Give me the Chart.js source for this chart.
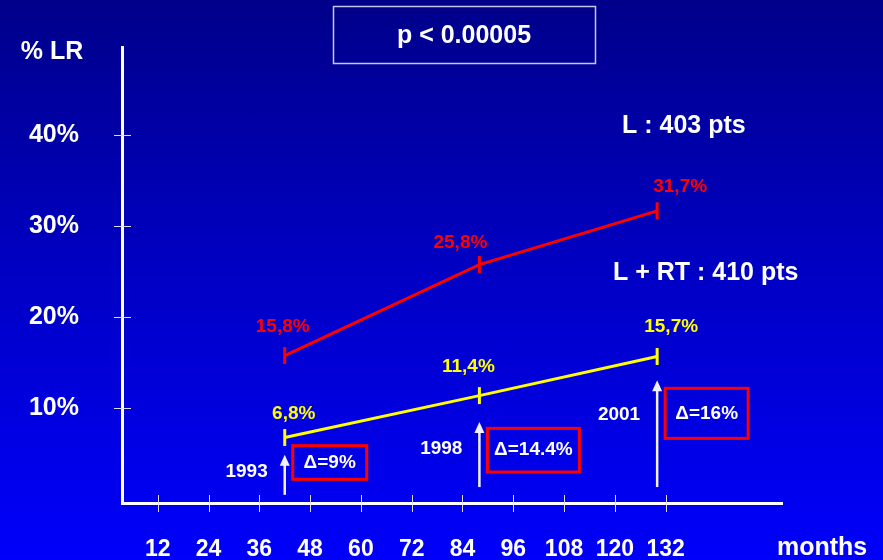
<!DOCTYPE html>
<html>
<head>
<meta charset="utf-8">
<script src="https://cdn.jsdelivr.net/npm/chart.js@4.4.1/dist/chart.umd.min.js"></script>
<style>
  html, body { margin: 0; padding: 0; background: #0000c0; }
  #wrap {
    width: 883px; height: 560px; position: relative;
    background: linear-gradient(to bottom, #00008a 0%, #0000c6 50%, #0000fb 100%);
  }
</style>
</head>
<body>
<div id="wrap"><canvas id="lr"></canvas></div>
<script>
// ---- Data ------------------------------------------------------------------
const months    = [42, 88, 130];          // follow-up (months) of each reading
const lumpOnly  = [15.8, 25.8, 31.7];     // L : 403 pts   (% local relapse)
const lumpRT    = [6.8, 11.4, 15.7];      // L + RT : 410 pts
const xTicks    = [12, 24, 36, 48, 60, 72, 84, 96, 108, 120, 132];
const yTicks    = [10, 20, 30, 40];
const years     = ["1993", "1998", "2001"];
const deltas    = ["\u0394=9%", "\u0394=14.4%", "\u0394=16%"];

// ---- Layout of the annotations (value units on y, px offsets otherwise) ----
const notes = {
  arrowFrom: [0.5, 1.35, 1.35],
  arrowTo:   [4.9, 8.5, 13.1],
  yearAt:    [3.0, 5.6, 9.3],
  boxTop:    [5.9, 7.8, 12.2],
  boxBottom: [2.2, 3.0, 6.7],
  boxW:      [74, 92, 83],
  labelDx:   { red: [-2, -19, 23], yellow: [9, -11, 14] },
  labelDy:   { red: [-29, -22, -24], yellow: [-24, -29, -30] }
};

const FONT = '"Liberation Sans", Arial, sans-serif';
const RED = "#ff0000";
const YELLOW = "#ffff00";
const WHITE = "#ffffff";

const pts = (vals) => vals.map((v, i) => ({ x: months[i], y: v }));

// ---- Overlay: crossing ticks, point labels, arrows, boxes, free text -------
const overlay = {
  id: "overlay",
  afterDatasetsDraw(chart) {
    const { ctx, scales: { x, y } } = chart;
    ctx.save();

    // tick marks crossing the axis lines
    ctx.strokeStyle = "#dcdcf4";
    ctx.lineWidth = 1;
    ctx.beginPath();
    xTicks.forEach(v => {
      const px = Math.round(x.getPixelForValue(v)) + 0.5;
      ctx.moveTo(px, y.bottom - 8); ctx.lineTo(px, y.bottom + 9);
    });
    yTicks.forEach(v => {
      const py = Math.round(y.getPixelForValue(v)) + 0.5;
      ctx.moveTo(x.left - 8, py); ctx.lineTo(x.left + 9, py);
    });
    ctx.stroke();

    // value labels above the markers
    ctx.textAlign = "center";
    ctx.textBaseline = "middle";
    ctx.font = `bold 19px ${FONT}`;
    [["red", 0, RED, lumpOnly], ["yellow", 1, YELLOW, lumpRT]].forEach(([k, di, col, vals]) => {
      const meta = chart.getDatasetMeta(di);
      ctx.fillStyle = col;
      meta.data.forEach((p, i) => {
        ctx.fillText(vals[i].toFixed(1).replace(".", ",") + "%",
          p.x + notes.labelDx[k][i], p.y + notes.labelDy[k][i]);
      });
    });

    // arrows, years and delta boxes
    months.forEach((m, i) => {
      const px = x.getPixelForValue(m);
      const yb = y.getPixelForValue(notes.arrowFrom[i]);
      const yt = y.getPixelForValue(notes.arrowTo[i]);
      ctx.strokeStyle = "#f0f0ff";
      ctx.fillStyle = "#f0f0ff";
      ctx.lineWidth = 2.5;
      ctx.beginPath();
      ctx.moveTo(px, yb); ctx.lineTo(px, yt + 8);
      ctx.stroke();
      ctx.beginPath();
      ctx.moveTo(px, yt); ctx.lineTo(px - 5, yt + 11); ctx.lineTo(px + 5, yt + 11);
      ctx.closePath(); ctx.fill();

      ctx.fillStyle = WHITE;
      ctx.textAlign = "right";
      ctx.font = `bold 19px ${FONT}`;
      ctx.fillText(years[i], px - 17, y.getPixelForValue(notes.yearAt[i]));

      const bx = px + 8;
      const by = y.getPixelForValue(notes.boxTop[i]);
      const bh = y.getPixelForValue(notes.boxBottom[i]) - by;
      ctx.strokeStyle = RED;
      ctx.lineWidth = 3;
      ctx.strokeRect(bx, by, notes.boxW[i], bh);
      ctx.textAlign = "center";
      ctx.fillText(deltas[i], bx + notes.boxW[i] / 2, by + bh / 2);
    });

    // title box + free text
    ctx.strokeStyle = "#c8c8e4";
    ctx.lineWidth = 1.5;
    ctx.strokeRect(333.5, 6.5, 262, 57);
    ctx.font = `bold 25px ${FONT}`;
    ctx.fillStyle = WHITE;
    ctx.textAlign = "center";
    ctx.fillText("p < 0.00005", 464, 36);
    ctx.fillText("% LR", 52, 52);
    ctx.textAlign = "left";
    ctx.fillText(chart.data.datasets[0].label, 622, 126);
    ctx.fillText(chart.data.datasets[1].label, 613, 273);
    ctx.fillText("months", 777, 548);

    ctx.restore();
  }
};

// ---- Chart -----------------------------------------------------------------
new Chart(document.getElementById("lr"), {
  type: "line",
  data: {
    datasets: [
      {
        label: "L : 403 pts",
        data: pts(lumpOnly),
        borderColor: RED,
        borderWidth: 3,
        pointStyle: "line",
        pointRotation: 90,
        pointRadius: 8.5,
        pointBorderWidth: 3,
        pointBorderColor: RED,
        tension: 0,
        fill: false
      },
      {
        label: "L + RT : 410 pts",
        data: pts(lumpRT),
        borderColor: YELLOW,
        borderWidth: 3,
        pointStyle: "line",
        pointRotation: 90,
        pointRadius: 8.5,
        pointBorderWidth: 3,
        pointBorderColor: YELLOW,
        tension: 0,
        fill: false
      }
    ]
  },
  options: {
    responsive: true,
    maintainAspectRatio: false,
    animation: false,
    layout: { padding: { left: 29, top: 47, right: 101, bottom: 0 } },
    plugins: { legend: { display: false }, tooltip: { enabled: false } },
    scales: {
      x: {
        type: "linear",
        min: 3.55,
        max: 159.5,
        afterBuildTicks: s => { s.ticks = xTicks.map(v => ({ value: v })); },
        afterFit: s => { s.height = 57; s.paddingLeft = 0; s.paddingRight = 0; },
        grid: { drawOnChartArea: false, drawTicks: false },
        border: { color: WHITE, width: 3 },
        ticks: {
          color: WHITE,
          padding: 33,
          maxRotation: 0,
          autoSkip: false,
          font: { family: FONT, size: 23, weight: "bold" }
        }
      },
      y: {
        min: -0.4,
        max: 49.7,
        afterBuildTicks: s => { s.ticks = yTicks.map(v => ({ value: v })); },
        afterFit: s => { s.width = 93; s.paddingTop = 0; s.paddingBottom = 0; },
        grid: { drawOnChartArea: false, drawTicks: false },
        border: { color: WHITE, width: 3 },
        ticks: {
          color: WHITE,
          padding: 43,
          font: { family: FONT, size: 25, weight: "bold" },
          callback: v => v + "%"
        }
      }
    }
  },
  plugins: [overlay]
});
</script>
</body>
</html>
